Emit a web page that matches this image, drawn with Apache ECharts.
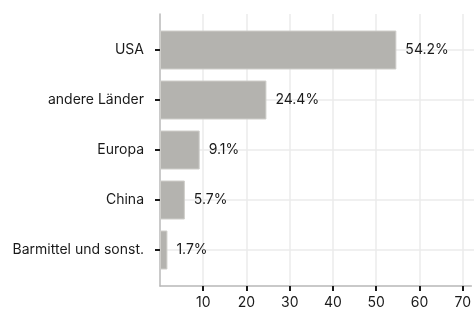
<!DOCTYPE html>
<html>
<head>
<meta charset="utf-8">
<script src="https://cdn.jsdelivr.net/npm/echarts@6/dist/echarts.min.js"></script>
<style>
  html, body { margin: 0; padding: 0; background: #fff; }
  #chart { width: 474px; height: 314px; }
</style>
</head>
<body>
<div id="chart"></div>
<script>
var categories = ['USA', 'andere Länder', 'Europa', 'China', 'Barmittel und sonst.'];
var shares = [54.2, 24.4, 9.1, 5.7, 1.7];
var xTicks = [10, 20, 30, 40, 50, 60, 70];

var chart = echarts.init(document.getElementById('chart'));
var font = 'Inter, "Noto Sans", sans-serif';

var option = {
    animation: false,
    textStyle: { fontFamily: font },
    grid: [
        // frame: axis lines, vertical grid lines, x labels
        { left: 160, right: 0, top: 14, bottom: 28 },
        // bars: category centers from y=50 to y=250
        { left: 160, right: 0, top: 50, bottom: 64 }
    ],
    xAxis: [{
        gridIndex: 0,
        type: 'value',
        min: 0,
        max: 72,
        interval: 10,
        axisLine: { show: true, lineStyle: { color: '#b8b8b8', width: 1.5 } },
        axisTick: { show: true, customValues: xTicks, length: 5, lineStyle: { color: '#1a1a1a', width: 2 } },
        axisLabel: { customValues: xTicks, margin: 10, fontSize: 14, color: '#1a1a1a', fontFamily: font },
        splitLine: { show: true, lineStyle: { color: '#ebebeb', width: 1.5 } }
    }, {
        gridIndex: 1,
        type: 'value',
        min: 0,
        max: 72,
        show: false
    }],
    yAxis: [{
        gridIndex: 0,
        type: 'value',
        min: 0,
        max: 1,
        axisLine: { show: true, lineStyle: { color: '#b8b8b8', width: 1.5 } },
        axisTick: { show: false },
        axisLabel: { show: false },
        splitLine: { show: false }
    }, {
        gridIndex: 1,
        type: 'category',
        inverse: true,
        boundaryGap: false,
        data: categories,
        axisLine: { show: false },
        axisTick: { show: true, length: 5, lineStyle: { color: '#1a1a1a', width: 2 } },
        axisLabel: { margin: 16, fontSize: 14, color: '#1a1a1a', fontFamily: font },
        splitLine: { show: true, interval: 0, lineStyle: { color: '#ebebeb', width: 1.5 } }
    }],
    series: [{
        type: 'bar',
        xAxisIndex: 1,
        yAxisIndex: 1,
        data: shares,
        barWidth: 39,
        itemStyle: { color: '#b4b3af', borderColor: '#cfceca', borderWidth: 1 },
        label: {
            show: true,
            position: 'right',
            distance: 9,
            fontSize: 14,
            color: '#1a1a1a',
            fontFamily: font,
            formatter: function (p) { return p.value.toFixed(1) + '%'; }
        }
    }]
};

chart.setOption(option);
</script>
</body>
</html>
